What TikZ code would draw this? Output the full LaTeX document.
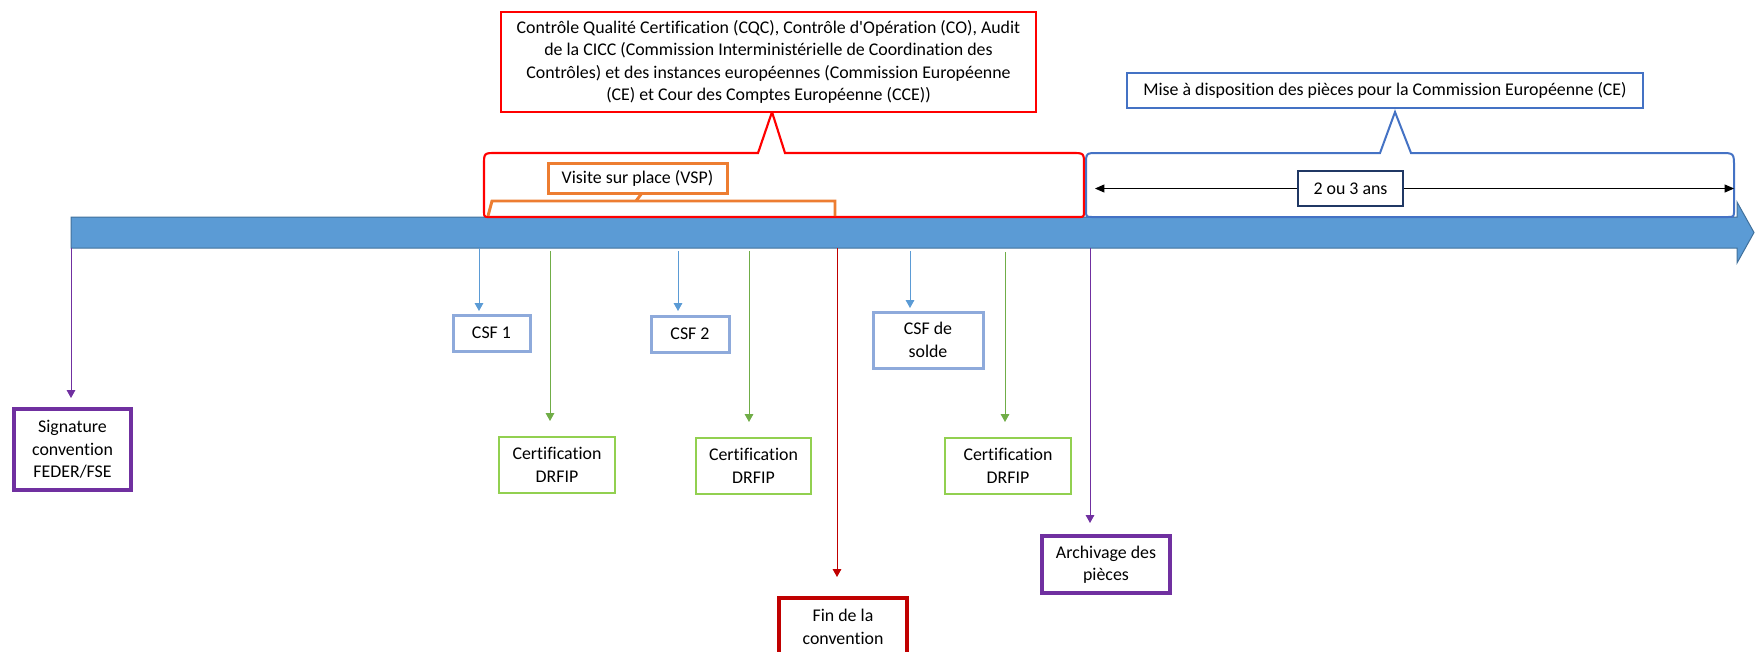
\documentclass[tikz,border=0pt]{standalone}
\usepackage{fontspec}
\setmainfont{Carlito}[Ligatures={TeXOff,NoCommon}]
\usetikzlibrary{arrows.meta}
\definecolor{barblue}{HTML}{5B9BD5}
\definecolor{bardark}{HTML}{41719C}
\definecolor{csfblue}{HTML}{8EAADB}
\definecolor{csfarr}{HTML}{5B9BD5}
\definecolor{certgreen}{HTML}{92D050}
\definecolor{arrgreen}{HTML}{70AD47}
\definecolor{purp}{HTML}{7030A0}
\definecolor{darkred}{HTML}{C00000}
\definecolor{orng}{HTML}{ED7D31}
\definecolor{callblue}{HTML}{4472C4}
\definecolor{navy}{HTML}{203864}
\begin{document}
\begin{tikzpicture}[x=0.75pt,y=-0.75pt,
  txt/.style={font=\fontsize{13.4}{16.8}\selectfont, align=center, inner sep=0pt},
  box/.style={txt, draw, fill=white},
  tip/.style={-{Triangle[width=6.5pt,length=6pt]}, line width=0.75pt},
  csfbox/.style={box, draw=csfblue, line width=2.25pt},
  certbox/.style={box, draw=certgreen, line width=1.9pt, minimum width=87pt, minimum height=42pt},
  purpbox/.style={box, draw=purp, line width=3pt},
]
\useasboundingbox (0,0) rectangle (1755,651);

% timeline bar
\path[fill=barblue, draw=bardark, line width=0.75pt]
  (71,217) -- (1737,217) -- (1737,202) -- (1754,232.5) -- (1737,263) -- (1737,248) -- (71,248) -- cycle;

% red callout (controls)
\draw[red, line width=1.6pt, fill=white]
  (772,112) -- (785,153) -- (1072,153) .. controls (1084,153) .. (1084,165)
  -- (1084,211) .. controls (1084,217) .. (1078,217) -- (490,217)
  .. controls (484,217) .. (484,211) -- (484,165)
  .. controls (484,153) .. (496,153) -- (758,153) -- cycle;

% blue callout (mise a disposition)
\draw[callblue, line width=1.5pt, fill=white]
  (1395,112) -- (1411,153) -- (1720,153) .. controls (1734,153) .. (1734,167)
  -- (1734,210) .. controls (1734,217) .. (1727,217) -- (1093,217)
  .. controls (1086,217) .. (1086,210) -- (1086,165)
  .. controls (1086,153) .. (1098,153) -- (1380,153) -- cycle;

% orange VSP bracket
\draw[orng, line width=2.2pt] (488,216) -- (492,201) -- (835,201) -- (835,216);
\draw[orng, line width=2.2pt] (636,201) -- (642,193);

% callout texts
\node[box, draw=red, line width=2pt, minimum width=401.25pt, minimum height=75pt] (ctrl) at (768.5,62)
  {Contrôle Qualité Certification (CQC), Contrôle d'Opération (CO), Audit\\
   de la CICC (Commission Interministérielle de Coordination des\\
   Contrôles) et des instances européennes (Commission Européenne\\
   (CE) et Cour des Comptes Européenne (CCE))};
\node[box, draw=callblue, line width=1.9pt, minimum width=387pt, minimum height=26.25pt] (mise) at (1385,90.5)
  {Mise à disposition des pièces pour la Commission Européenne (CE)};
\node[box, draw=orng, line width=2.25pt, minimum width=134.25pt, minimum height=22.5pt] (vsp) at (637.5,178)
  {Visite sur place (VSP)};
\node[box, draw=navy, line width=1.1pt, minimum width=78.75pt, minimum height=26.25pt] (ans) at (1350.5,188.5)
  {2 ou 3 ans};
\coordinate (ansL) at (1095,188.5);
\coordinate (ansR) at (1734,188.5);
\draw[-{Triangle[width=6pt,length=7pt]}, line width=0.6pt] (ans.west) -- (ansL);
\draw[-{Triangle[width=6pt,length=7pt]}, line width=0.6pt] (ans.east) -- (ansR);

% boxes below
\node[purpbox, minimum width=87.75pt, minimum height=60.75pt] (sig) at (72.5,449.5) {Signature\\convention\\FEDER/FSE};
\node[csfbox, minimum width=57.75pt, minimum height=27pt] (csf1) at (491.5,333) {CSF 1};
\node[csfbox, minimum width=58.5pt, minimum height=27pt] (csf2) at (690,334) {CSF 2};
\node[csfbox, minimum width=82.5pt, minimum height=42pt] (csfs) at (928,340) {CSF de\\solde};
\node[certbox] (cert1) at (557,465) {Certification\\DRFIP};
\node[certbox, minimum width=86.25pt] (cert2) at (753.5,466) {Certification\\DRFIP};
\node[certbox, minimum width=94.5pt] (cert3) at (1008,466) {Certification\\DRFIP};
\node[box, draw=darkred, line width=3pt, minimum width=96pt, minimum height=43.5pt] (fin) at (843,627) {Fin de la\\convention};
\node[purpbox, minimum width=96pt, minimum height=42.75pt] (arch) at (1106,564.5) {Archivage des\\pièces};

% connectors from the bar
\coordinate (s0) at (71,248);   \coordinate (t0) at (71,398);
\coordinate (s1) at (479,248);  \coordinate (t1) at (479,311);
\coordinate (s2) at (550,251);  \coordinate (t2) at (550,421);
\coordinate (s3) at (678,251);  \coordinate (t3) at (678,311);
\coordinate (s4) at (749,251);  \coordinate (t4) at (749,422);
\coordinate (s5) at (837,248);  \coordinate (t5) at (837,577);
\coordinate (s6) at (910,251);  \coordinate (t6) at (910,308);
\coordinate (s7) at (1005,252); \coordinate (t7) at (1005,422);
\coordinate (s8) at (1090,248); \coordinate (t8) at (1090,523);
\draw[tip, purp] (s0) -- (t0);
\draw[tip, csfarr] (s1) -- (t1);
\draw[tip, arrgreen] (s2) -- (t2);
\draw[tip, csfarr] (s3) -- (t3);
\draw[tip, arrgreen] (s4) -- (t4);
\draw[tip, darkred] (s5) -- (t5);
\draw[tip, csfarr] (s6) -- (t6);
\draw[tip, arrgreen] (s7) -- (t7);
\draw[tip, purp] (s8) -- (t8);
\end{tikzpicture}
\end{document}
